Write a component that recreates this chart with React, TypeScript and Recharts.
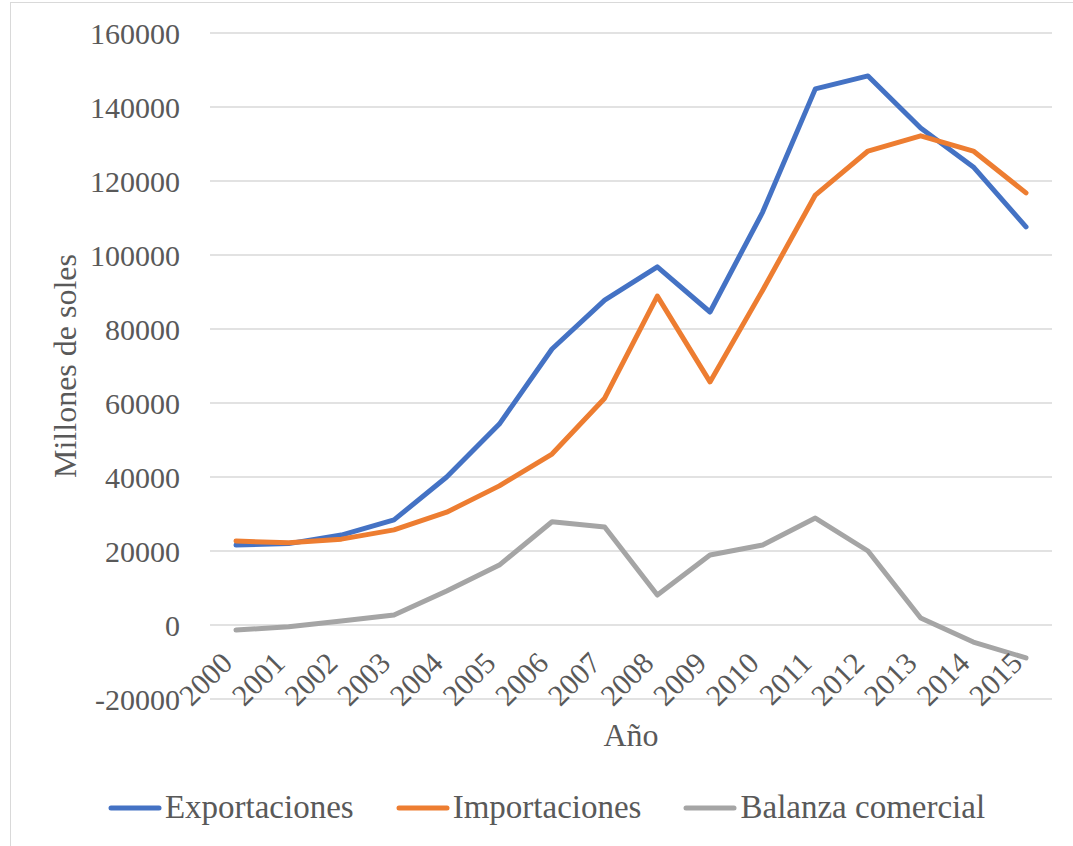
import { LineChart, Line, XAxis, YAxis, CartesianGrid, Legend } from "recharts";

const years = ["2000", "2001", "2002", "2003", "2004", "2005", "2006", "2007", "2008", "2009", "2010", "2011", "2012", "2013", "2014", "2015"];
const exportaciones = [21600, 22000, 24300, 28400, 40000, 54300, 74600, 87800, 96800, 84600, 111600, 144900, 148400, 134300, 123800, 107600];
const importaciones = [22700, 22200, 23200, 25700, 30500, 37600, 46200, 61300, 88900, 65700, 90500, 116200, 128100, 132200, 128100, 116800];
const balanza = [-1350, -500, 1100, 2700, 9200, 16200, 27900, 26500, 8100, 18900, 21600, 28900, 20000, 1900, -4600, -8900];
const yTicks = [-20000, 0, 20000, 40000, 60000, 80000, 100000, 120000, 140000, 160000];

const data = years.map((year, i) => ({
  year,
  exp: exportaciones[i],
  imp: importaciones[i],
  bal: balanza[i],
}));

const series = [
  { key: "exp", name: "Exportaciones", color: "#4472C4" },
  { key: "imp", name: "Importaciones", color: "#ED7D31" },
  { key: "bal", name: "Balanza comercial", color: "#A5A5A5" },
];

const font = "Liberation Serif, DejaVu Serif, serif";
const textColor = "#595959";

// etiquetas de año giradas, pegadas al eje en 0 (como en Excel)
function YearTick(props: any) {
  const { x, payload } = props;
  const ax = x - 2;
  const ay = 665;
  return (
    <text
      x={ax}
      y={ay}
      textAnchor="end"
      transform={`rotate(-45 ${ax} ${ay})`}
      fontSize={30}
      fontFamily={font}
      fill={textColor}
    >
      {payload.value}
    </text>
  );
}

function LegendContent() {
  return (
    <div style={{ display: "flex", justifyContent: "center", gap: 41, paddingLeft: 19, fontFamily: font, fontSize: 33, color: textColor }}>
      {series.map((s) => (
        <div key={s.key} style={{ display: "flex", alignItems: "center" }}>
          <svg width={56} height={10} style={{ marginRight: 2 }}>
            <line x1={4} y1={5} x2={52} y2={5} stroke={s.color} strokeWidth={5} strokeLinecap="round" />
          </svg>
          <span>{s.name}</span>
        </div>
      ))}
    </div>
  );
}

export default function App() {
  return (
    <div style={{ position: "absolute", left: 0, top: 0, width: 1073, height: 846, overflow: "hidden", background: "#fff" }}>
      <div style={{ position: "absolute", left: 10, top: 2, width: 1070, height: 860, border: "1px solid #D9D9D9" }} />
      <LineChart
        width={1073}
        height={846}
        data={data}
        margin={{ top: 33, right: 21, left: 0, bottom: 0 }}
        style={{ position: "absolute", left: 0, top: 0 }}
      >
        <CartesianGrid vertical={false} stroke="#D9D9D9" strokeWidth={1.5} />
        <XAxis
          dataKey="year"
          axisLine={false}
          tickLine={false}
          height={87}
          interval={0}
          padding={{ left: 26, right: 26 }}
          tick={<YearTick />}
          label={{ value: "Año", position: "insideBottom", offset: 40, fontSize: 32, fontFamily: font, fill: textColor }}
        />
        <YAxis
          width={210}
          domain={[-20000, 160000]}
          ticks={yTicks}
          axisLine={false}
          tickLine={false}
          tickMargin={24}
          tick={{ fontSize: 30, fontFamily: font, fill: textColor }}
          label={{ value: "Millones de soles", angle: -90, position: "center", dx: -40, fontSize: 32, fontFamily: font, fill: textColor }}
        />
        <Legend verticalAlign="bottom" height={60} content={<LegendContent />} wrapperStyle={{ left: 0, width: 1073, bottom: -3 }} />
        {series.map((s) => (
          <Line
            key={s.key}
            type="linear"
            dataKey={s.key}
            name={s.name}
            stroke={s.color}
            strokeWidth={5}
            strokeLinecap="round"
            strokeLinejoin="round"
            dot={false}
            activeDot={false}
            isAnimationActive={false}
          />
        ))}
      </LineChart>
    </div>
  );
}
